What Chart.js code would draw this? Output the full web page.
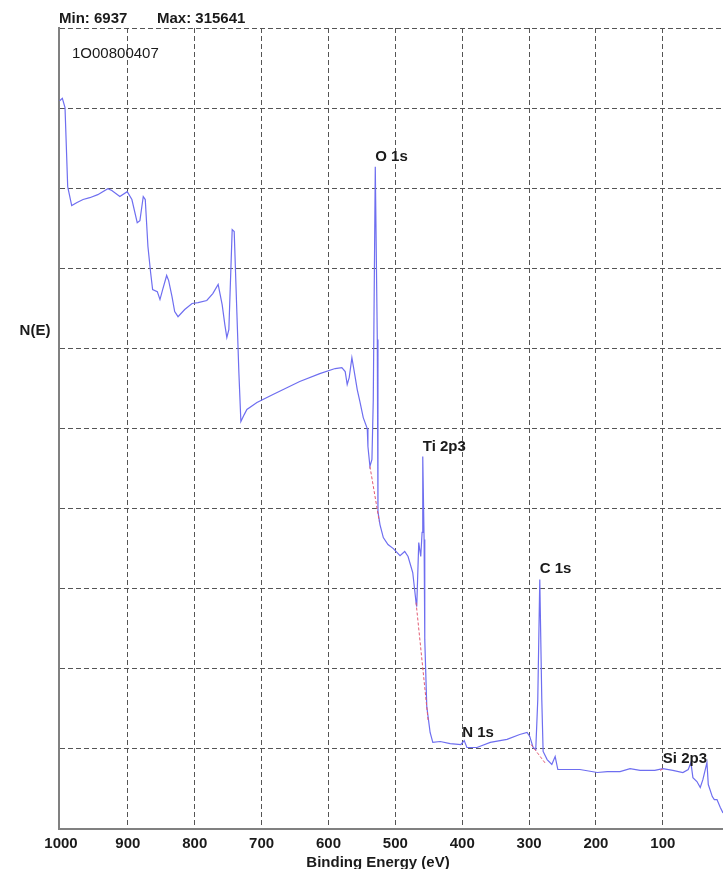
<!DOCTYPE html>
<html>
<head>
<meta charset="utf-8">
<script src="https://cdn.jsdelivr.net/npm/chart.js@4"></script>
<style>
  html, body { margin: 0; padding: 0; background: #fff; overflow: hidden; }
  #wrap { width: 723px; height: 869px; position: relative; }
</style>
</head>
<body>
<div id="wrap"><canvas id="survey" width="723" height="869"></canvas></div>
<script>
// XPS survey spectrum, binding energy (eV) vs counts N(E)
const bindingEnergy = [
  1002, 998, 994, 990, 984, 976, 967, 957, 945, 930, 924, 912, 901, 894, 886, 882,
  877, 874, 870, 866, 863, 856, 852, 848, 842, 839, 834, 830, 825, 815, 804, 795,
  782, 773, 765, 759, 755, 752, 749, 744, 741, 737, 734, 731, 726, 722, 707, 683,
  643, 613, 590, 580, 575, 572, 569, 565, 562, 557, 553, 548, 542, 541, 538, 535,
  533, 530, 527, 526, 523, 518, 511, 503, 493, 486, 481, 474, 469, 468, 465, 462,
  460, 459, 457, 456, 453, 448, 444, 433, 418, 402, 397, 393, 378, 358, 333, 314,
  303, 299, 294, 290, 287, 284, 281, 279, 273, 266, 261, 257, 243, 224, 198, 183,
  164, 149, 134, 112, 100, 85, 70, 62, 58, 55, 49, 44, 40, 34, 32, 26,
  23, 19, 14, 10
];
const counts = [
  314600, 315641, 311600, 277500, 269300, 270600, 271900, 272700, 274000, 276600, 275800, 273200, 275300, 271900, 261900, 262800,
  273200, 271900, 251600, 240400, 233000, 232100, 228700, 233000, 239100, 236900, 230000, 223500, 221300, 224400, 227000, 227400,
  228300, 231300, 235200, 226500, 217900, 212300, 215700, 258900, 258100, 223100, 197200, 176000, 179000, 181200, 184200, 187700,
  193300, 196700, 198900, 199300, 197600, 192000, 195000, 203600, 198500, 189800, 184600, 177700, 173000, 165200, 156600, 159600,
  185500, 286100, 211400, 137100, 131500, 125900, 122900, 121100, 118100, 119900, 117700, 110800, 97800, 96100, 123700, 117700,
  128100, 160900, 125000, 81800, 52900, 41700, 37400, 37800, 36900, 36500, 38200, 35200, 35200, 37400, 38700, 40800,
  41700, 40000, 35200, 34300, 55900, 107800, 55900, 33500, 30000, 27900, 31300, 25700, 25700, 25700, 24400, 24800,
  24800, 26100, 25300, 25300, 26100, 25300, 24400, 25700, 28700, 22200, 20500, 17900, 21400, 28700, 19200, 14000,
  12700, 12700, 9300, 6937
];

// Linear background under each peak: start/end pairs
const bgEnergy = [538, 524, 469, 451, 297, 276, 104, 99];
const bgCounts = [156600, 132800, 97800, 47000, 36500, 28500, 25300, 26100];

// Peak assignments
const peakNames = ['O 1s', 'Ti 2p3', 'N 1s', 'C 1s', 'Si 2p3'];
const peakEnergies = [530, 459, 400, 284, 100];

const xTickValues = [1000, 900, 800, 700, 600, 500, 400, 300, 200, 100];
const sampleId = '1O00800407';
const xTitle = 'Binding Energy (eV)';
const yTitle = 'N(E)';

const spectrumPoints = bindingEnergy.map((e, i) => ({ x: e, y: counts[i] }));
const bgPoints = [];
for (let i = 0; i < bgEnergy.length; i += 2) {
  if (i > 0) bgPoints.push({ x: (bgEnergy[i - 1] + bgEnergy[i]) / 2, y: null });
  bgPoints.push({ x: bgEnergy[i], y: bgCounts[i] });
  bgPoints.push({ x: bgEnergy[i + 1], y: bgCounts[i + 1] });
}

function countsAt(e) {
  for (let i = 0; i < bindingEnergy.length - 1; i++) {
    const a = bindingEnergy[i], b = bindingEnergy[i + 1];
    if (e <= a && e >= b) {
      const t = a === b ? 0 : (a - e) / (a - b);
      return counts[i] + t * (counts[i + 1] - counts[i]);
    }
  }
  return counts[counts.length - 1];
}

const FONT = '"Liberation Sans", Arial, Helvetica, sans-serif';

const textPlugin = {
  id: 'spectrumText',
  afterDraw(chart) {
    const { ctx, chartArea, scales: { x, y } } = chart;
    ctx.save();
    ctx.fillStyle = '#1a1a1a';
    ctx.textBaseline = 'alphabetic';
    ctx.textAlign = 'left';
    ctx.font = 'bold 15px ' + FONT;
    const lo = Math.min(...counts), hi = Math.max(...counts);
    ctx.fillText('Min: ' + lo, chartArea.left, 23);
    ctx.fillText('Max: ' + hi, chartArea.left + 98, 23);

    ctx.font = '15px ' + FONT;
    ctx.fillText(sampleId, chartArea.left + 13, 58);

    ctx.font = 'bold 15px ' + FONT;
    ctx.textAlign = 'center';
    ctx.fillText(yTitle, 35, 335);
    ctx.fillText(xTitle, 378, 867);

    ctx.textAlign = 'left';
    peakNames.forEach((name, i) => {
      const e = peakEnergies[i];
      const px = x.getPixelForValue(e);
      const py = y.getPixelForValue(countsAt(e));
      ctx.fillText(name, px, py - 6);
    });
    ctx.restore();
  }
};

new Chart(document.getElementById('survey'), {
  type: 'line',
  data: {
    datasets: [
      {
        label: 'background',
        data: bgPoints,
        borderColor: '#e25a72',
        borderWidth: 1,
        borderDash: [3, 2],
        pointRadius: 0,
        spanGaps: false,
        tension: 0,
        order: 0
      },
      {
        label: yTitle,
        data: spectrumPoints,
        borderColor: '#6e6ef0',
        borderWidth: 1.2,
        pointRadius: 0,
        tension: 0,
        order: 1
      }
    ]
  },
  options: {
    responsive: false,
    animation: false,
    events: [],
    layout: { padding: { left: 59, top: 28, right: 0, bottom: 0 } },
    plugins: { legend: { display: false }, tooltip: { enabled: false }, title: { display: false } },
    scales: {
      x: {
        type: 'linear',
        reverse: true,
        min: 10,
        max: 1003,
        afterBuildTicks: axis => { axis.ticks = xTickValues.map(v => ({ value: v })); },
        afterFit: s => { s.height = 40; },
        ticks: {
          font: { family: FONT, size: 15, weight: 'bold' },
          color: '#1a1a1a',
          padding: 6,
          maxRotation: 0,
          autoSkip: false,
          callback: v => String(v)
        },
        grid: {
          color: c => (c.tick && c.tick.value === 1000 ? 'rgba(0,0,0,0)' : '#555'),
          lineWidth: 1,
          drawTicks: false
        },
        border: { color: '#808080', width: 2, dash: [5, 3] }
      },
      y: {
        min: 0,
        max: 346000,
        afterFit: s => { s.width = 0; },
        ticks: { display: false, stepSize: 34600 },
        grid: { color: '#555', lineWidth: 1, drawTicks: false },
        border: { color: '#808080', width: 2, dash: [5, 3] }
      }
    }
  },
  plugins: [textPlugin]
});
</script>
</body>
</html>
